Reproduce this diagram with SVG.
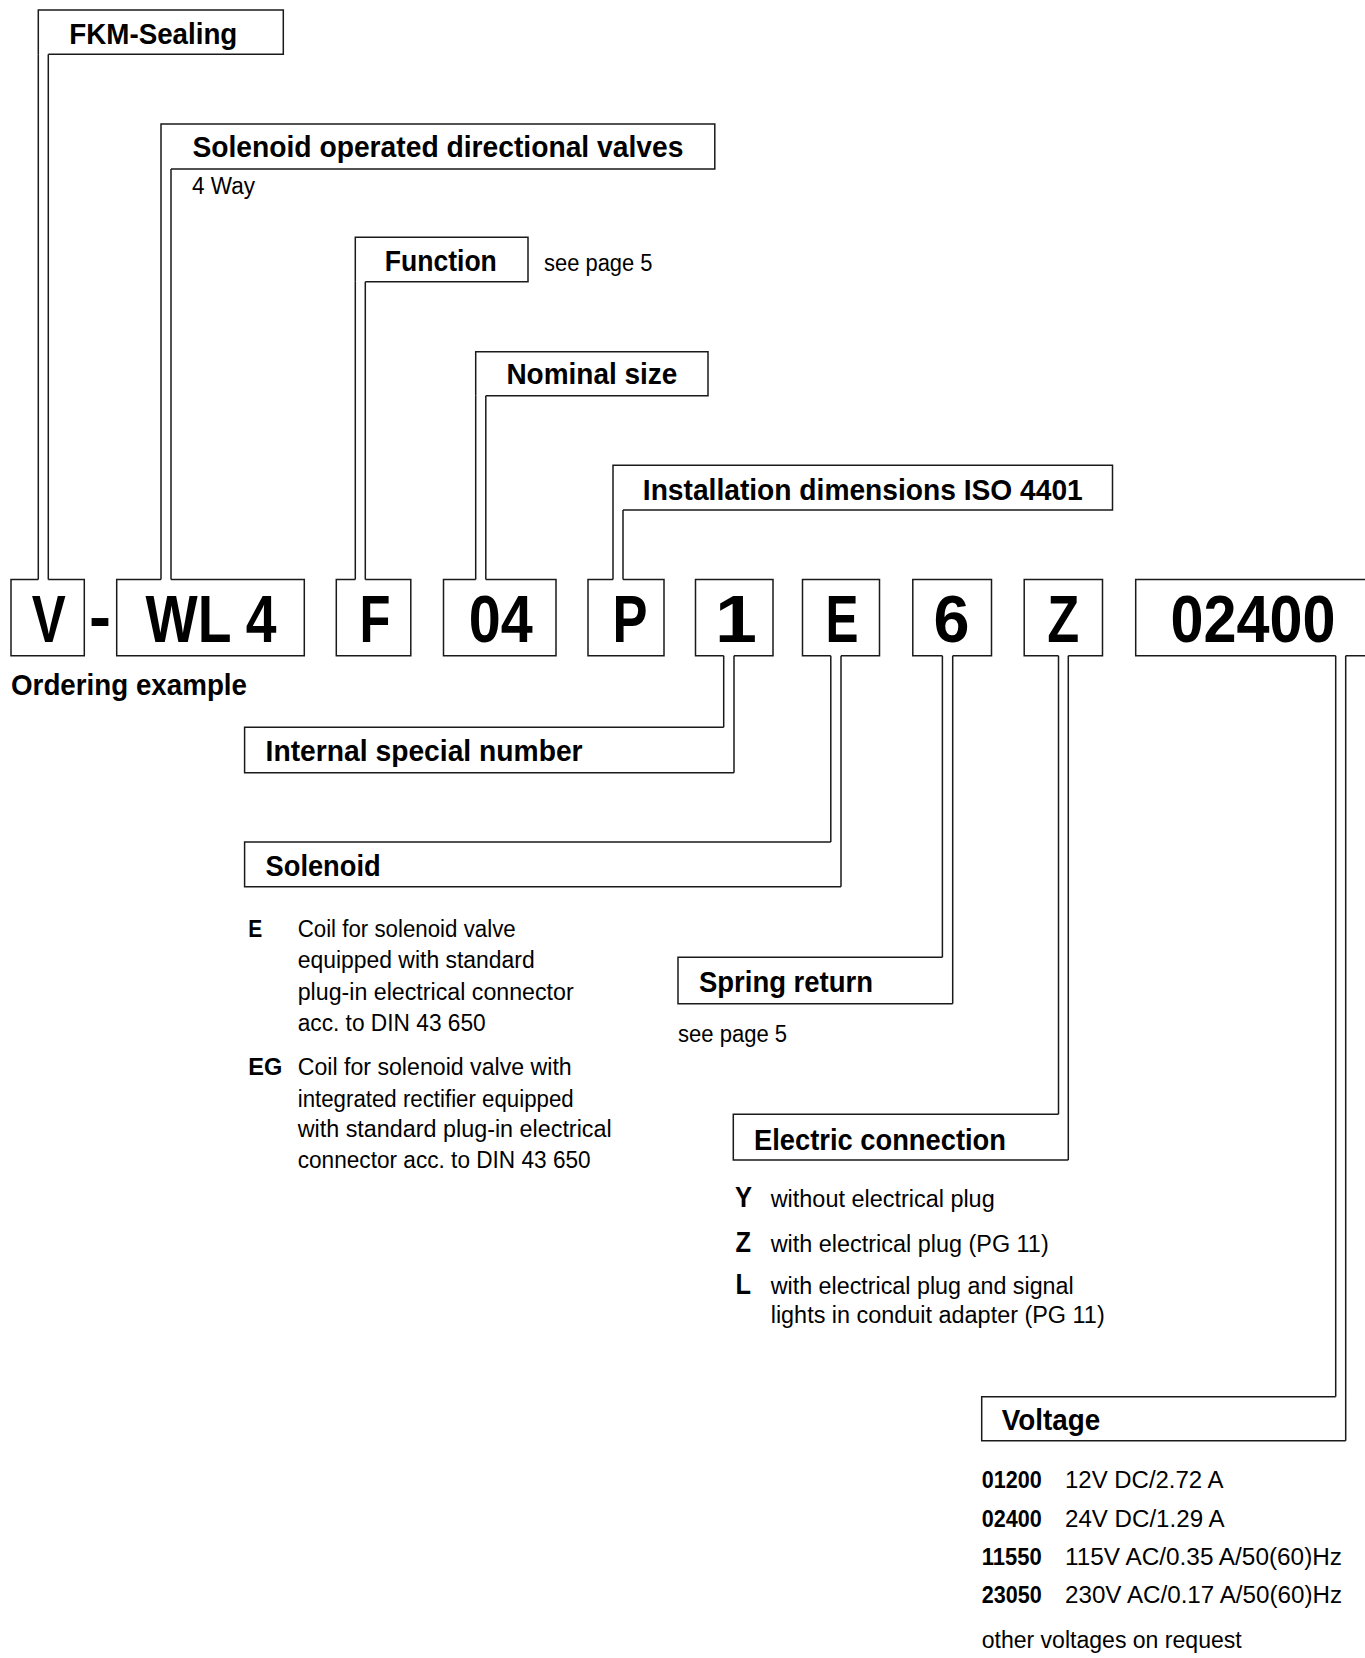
<svg xmlns="http://www.w3.org/2000/svg" width="1365" height="1658" viewBox="0 0 1365 1658">
<style>
  .ln { fill: none; stroke: #1a1a1a; stroke-width: 1.5; stroke-linejoin: miter; }
  text { font-family: "Liberation Sans Narrow", "Liberation Sans", "DejaVu Sans Condensed", sans-serif; fill: #000; }
  .h { font-size: 30px; font-weight: bold; }
  .big { font-size: 67px; font-weight: bold; text-anchor: middle; }
  .t { font-size: 23px; }
  .b { font-size: 23px; font-weight: bold; }
  .bl { font-size: 30px; font-weight: bold; }
</style>
<rect width="1365" height="1658" fill="#fff"/>

<g id="connectors">
  <path class="ln" d="M38.3,54.3 V579.5 M48.3,54.3 V579.5"/>
  <path class="ln" d="M161,169 V579.5 M171,169 V579.5"/>
  <path class="ln" d="M355.3,281.7 V579.5 M365.3,281.7 V579.5"/>
  <path class="ln" d="M475.7,395.7 V579.5 M485.8,395.7 V579.5"/>
  <path class="ln" d="M613,510 V579.5 M623,510 V579.5"/>
  <path class="ln" d="M723.7,655.7 V727.3 M734,655.7 V772.7"/>
  <path class="ln" d="M830.8,655.7 V842 M841,655.7 V886.7"/>
  <path class="ln" d="M942.4,655.7 V957.3 M952.7,655.7 V1003.7"/>
  <path class="ln" d="M1058.5,655.7 V1114.3 M1068.3,655.7 V1160"/>
  <path class="ln" d="M1335.7,655.7 V1396.7 M1345.7,655.7 V1440.7"/>
</g>

<!-- Code boxes -->
<g id="box-V">
  <path class="ln" d="M38.3,579.5 H11 V655.7 H84.3 V579.5 H48.3"/>
  <text class="big" x="48.7" y="641.7" textLength="34" lengthAdjust="spacingAndGlyphs">V</text>
</g>
<g id="dash">
  <text class="big" x="100" y="639" textLength="22" lengthAdjust="spacingAndGlyphs">-</text>
</g>
<g id="box-WL4">
  <path class="ln" d="M161,579.5 H116.7 V655.7 H304.3 V579.5 H171"/>
  <text class="big" x="211" y="641.7" textLength="131" lengthAdjust="spacingAndGlyphs">WL 4</text>
</g>
<g id="box-F">
  <path class="ln" d="M355.3,579.5 H336.3 V655.7 H410.8 V579.5 H365.3"/>
  <text class="big" x="375" y="641.7" textLength="31" lengthAdjust="spacingAndGlyphs">F</text>
</g>
<g id="box-04">
  <path class="ln" d="M475.7,579.5 H443.5 V655.7 H556 V579.5 H485.8"/>
  <text class="big" x="500.8" y="641.7" textLength="64" lengthAdjust="spacingAndGlyphs">04</text>
</g>
<g id="box-P">
  <path class="ln" d="M613,579.5 H588 V655.7 H664 V579.5 H623"/>
  <text class="big" x="630" y="641.7" textLength="35" lengthAdjust="spacingAndGlyphs">P</text>
</g>
<g id="box-1">
  <path class="ln" d="M723.7,655.7 H695.5 V579.5 H773 V655.7 H734"/>
  <text class="big" x="736" y="641.7" textLength="42" lengthAdjust="spacingAndGlyphs">1</text>
</g>
<g id="box-E">
  <path class="ln" d="M830.8,655.7 H802.5 V579.5 H879.5 V655.7 H841"/>
  <text class="big" x="842" y="641.7" textLength="33" lengthAdjust="spacingAndGlyphs">E</text>
</g>
<g id="box-6">
  <path class="ln" d="M942.4,655.7 H912.8 V579.5 H991.5 V655.7 H952.7"/>
  <text class="big" x="951.5" y="641.7" textLength="36" lengthAdjust="spacingAndGlyphs">6</text>
</g>
<g id="box-Z">
  <path class="ln" d="M1058.5,655.7 H1024.2 V579.5 H1102.5 V655.7 H1068.3"/>
  <text class="big" x="1063.3" y="641.7" textLength="32" lengthAdjust="spacingAndGlyphs">Z</text>
</g>
<g id="box-02400">
  <path class="ln" d="M1335.7,655.7 H1135.7 V579.5 H1366 M1345.7,655.7 H1366"/>
  <text class="big" x="1253" y="641.7" textLength="165" lengthAdjust="spacingAndGlyphs">02400</text>
</g>
<g id="ordering-example">
  <text class="h" x="11" y="695" textLength="236" lengthAdjust="spacingAndGlyphs">Ordering example</text>
</g>

<!-- Labels above -->
<g id="fkm-sealing">
  <path class="ln" d="M38.3,54.3 V10 H283.3 V54.3 H48.3"/>
  <text class="h" x="69.3" y="44.3" textLength="168" lengthAdjust="spacingAndGlyphs">FKM-Sealing</text>
</g>
<g id="solenoid-valves">
  <path class="ln" d="M161,169 V124 H714.8 V169 H171"/>
  <text class="h" x="192.4" y="157" textLength="491" lengthAdjust="spacingAndGlyphs">Solenoid operated directional valves</text>
  <text class="t" x="192" y="194.3" textLength="63" lengthAdjust="spacingAndGlyphs">4 Way</text>
</g>
<g id="function">
  <path class="ln" d="M355.3,281.7 V237.3 H528 V281.7 H365.3"/>
  <text class="h" x="384.8" y="271" textLength="112" lengthAdjust="spacingAndGlyphs">Function</text>
  <text class="t" x="544" y="270.7" textLength="108.5" lengthAdjust="spacingAndGlyphs">see page 5</text>
</g>
<g id="nominal-size">
  <path class="ln" d="M475.7,395.7 V351.7 H708 V395.7 H485.8"/>
  <text class="h" x="506.4" y="384.3" textLength="171" lengthAdjust="spacingAndGlyphs">Nominal size</text>
</g>
<g id="installation-dimensions">
  <path class="ln" d="M613,510 V465.3 H1112.5 V510 H623"/>
  <text class="h" x="642.8" y="500" textLength="440" lengthAdjust="spacingAndGlyphs">Installation dimensions ISO 4401</text>
</g>

<!-- Labels below -->
<g id="internal-special-number">
  <path class="ln" d="M723.7,727.3 H244.6 V772.7 H734"/>
  <text class="h" x="265.6" y="760.7" textLength="317" lengthAdjust="spacingAndGlyphs">Internal special number</text>
</g>
<g id="solenoid">
  <path class="ln" d="M830.8,842 H244.6 V886.7 H841"/>
  <text class="h" x="265.6" y="876" textLength="115" lengthAdjust="spacingAndGlyphs">Solenoid</text>
  <text class="b" x="248.3" y="937.3" textLength="14" lengthAdjust="spacingAndGlyphs">E</text>
  <text class="t" x="297.7" y="937.3" textLength="218" lengthAdjust="spacingAndGlyphs">Coil for solenoid valve</text>
  <text class="t" x="297.7" y="968.3" textLength="237" lengthAdjust="spacingAndGlyphs">equipped with standard</text>
  <text class="t" x="297.7" y="1000" textLength="276" lengthAdjust="spacingAndGlyphs">plug-in electrical connector</text>
  <text class="t" x="297.7" y="1030.7" textLength="188" lengthAdjust="spacingAndGlyphs">acc. to DIN 43 650</text>
  <text class="b" x="248.3" y="1075" textLength="34" lengthAdjust="spacingAndGlyphs">EG</text>
  <text class="t" x="297.7" y="1075" textLength="274" lengthAdjust="spacingAndGlyphs">Coil for solenoid valve with</text>
  <text class="t" x="297.7" y="1106.7" textLength="276" lengthAdjust="spacingAndGlyphs">integrated rectifier equipped</text>
  <text class="t" x="297.7" y="1137.3" textLength="314" lengthAdjust="spacingAndGlyphs">with standard plug-in electrical</text>
  <text class="t" x="297.7" y="1168.3" textLength="293" lengthAdjust="spacingAndGlyphs">connector acc. to DIN 43 650</text>
</g>
<g id="spring-return">
  <path class="ln" d="M942.4,957.3 H678 V1003.7 H952.7"/>
  <text class="h" x="699" y="991.7" textLength="174" lengthAdjust="spacingAndGlyphs">Spring return</text>
  <text class="t" x="678" y="1041.7" textLength="109" lengthAdjust="spacingAndGlyphs">see page 5</text>
</g>
<g id="electric-connection">
  <path class="ln" d="M1058.5,1114.3 H733.3 V1160 H1068.3"/>
  <text class="h" x="754" y="1150" textLength="252" lengthAdjust="spacingAndGlyphs">Electric connection</text>
  <text class="bl" x="735" y="1206.7" textLength="17" lengthAdjust="spacingAndGlyphs">Y</text>
  <text class="t" x="770.7" y="1206.7" textLength="224" lengthAdjust="spacingAndGlyphs">without electrical plug</text>
  <text class="bl" x="735.5" y="1251.7" textLength="15.5" lengthAdjust="spacingAndGlyphs">Z</text>
  <text class="t" x="770.7" y="1251.7" textLength="278" lengthAdjust="spacingAndGlyphs">with electrical plug (PG 11)</text>
  <text class="bl" x="735.5" y="1294" textLength="15.5" lengthAdjust="spacingAndGlyphs">L</text>
  <text class="t" x="770.7" y="1294" textLength="303" lengthAdjust="spacingAndGlyphs">with electrical plug and signal</text>
  <text class="t" x="770.7" y="1323.3" textLength="334" lengthAdjust="spacingAndGlyphs">lights in conduit adapter (PG 11)</text>
</g>
<g id="voltage">
  <path class="ln" d="M1335.7,1396.7 H981.7 V1440.7 H1345.7"/>
  <text class="h" x="1001.7" y="1430" textLength="98.5" lengthAdjust="spacingAndGlyphs">Voltage</text>
  <text class="b" x="981.7" y="1488.3" textLength="60" lengthAdjust="spacingAndGlyphs">01200</text>
  <text class="t" x="1065" y="1488.3" textLength="158.5" lengthAdjust="spacingAndGlyphs">12V DC/2.72 A</text>
  <text class="b" x="981.7" y="1526.7" textLength="60" lengthAdjust="spacingAndGlyphs">02400</text>
  <text class="t" x="1065" y="1526.7" textLength="159.5" lengthAdjust="spacingAndGlyphs">24V DC/1.29 A</text>
  <text class="b" x="981.7" y="1565" textLength="60" lengthAdjust="spacingAndGlyphs">11550</text>
  <text class="t" x="1065" y="1565" textLength="277" lengthAdjust="spacingAndGlyphs">115V AC/0.35 A/50(60)Hz</text>
  <text class="b" x="981.7" y="1603.3" textLength="60" lengthAdjust="spacingAndGlyphs">23050</text>
  <text class="t" x="1065" y="1603.3" textLength="277" lengthAdjust="spacingAndGlyphs">230V AC/0.17 A/50(60)Hz</text>
  <text class="t" x="981.7" y="1648.3" textLength="260" lengthAdjust="spacingAndGlyphs">other voltages on request</text>
</g>
</svg>
